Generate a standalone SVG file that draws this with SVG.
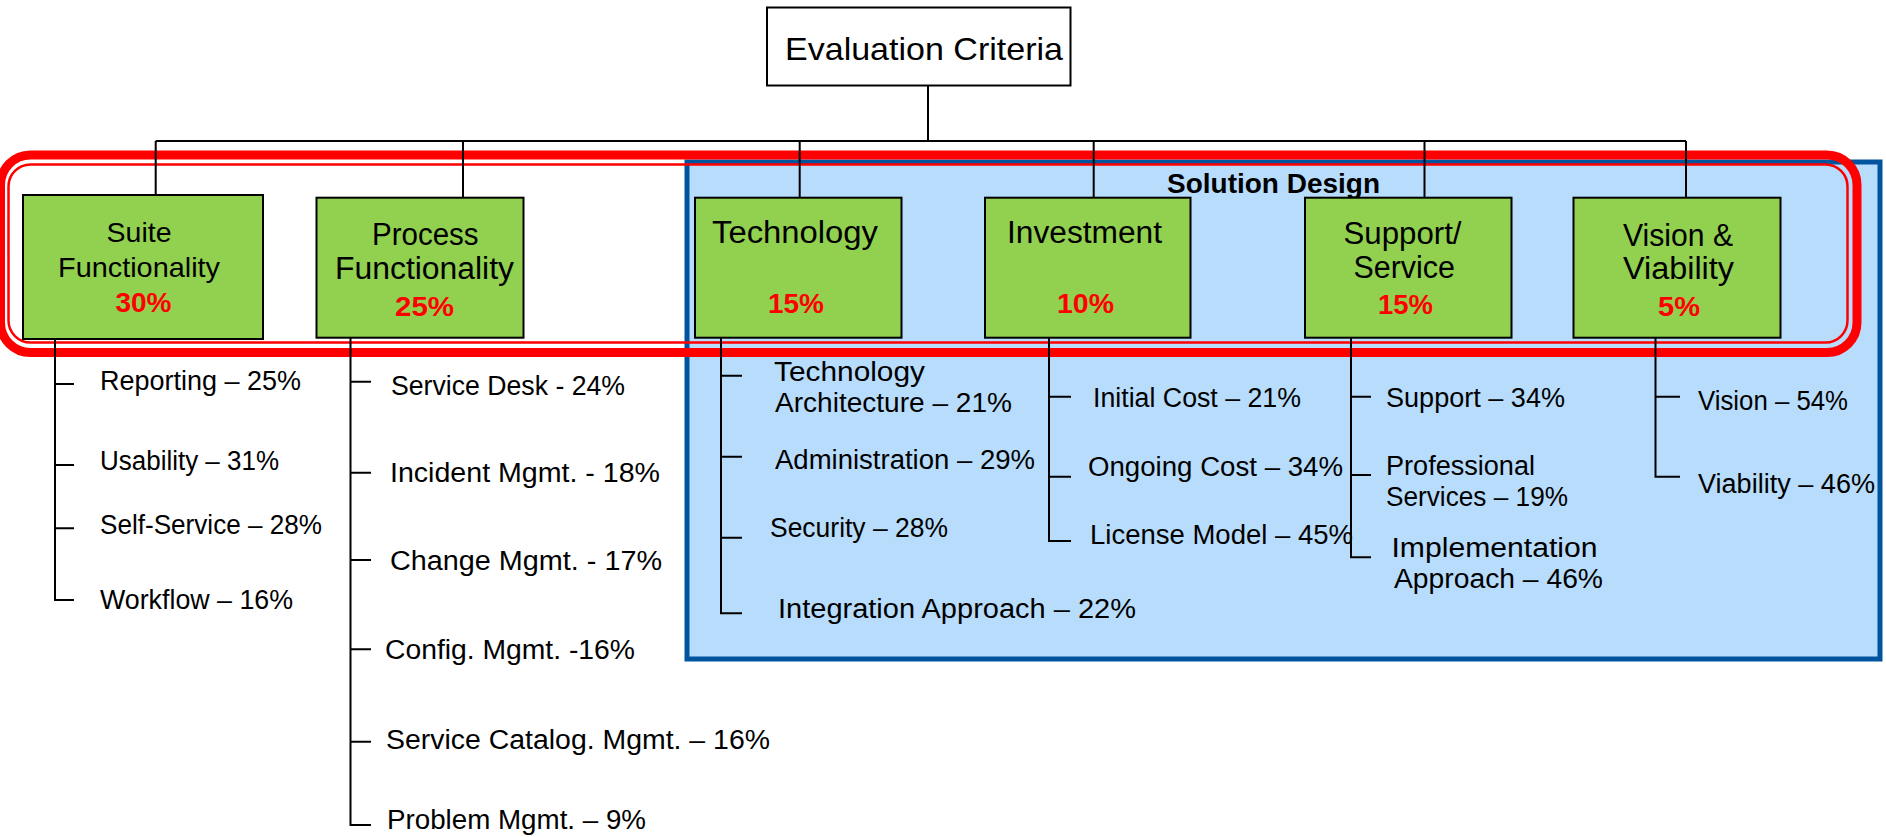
<svg xmlns="http://www.w3.org/2000/svg" width="1886" height="837" viewBox="0 0 1886 837">
<style>
.box{fill:#92d050;stroke:#000;stroke-width:2}
.root{fill:#fff;stroke:#000;stroke-width:2}
.ln{stroke:#000;stroke-width:2;fill:none}
text{font-family:"Liberation Sans",Arial,sans-serif;fill:#000}
.lbl{font-size:31px}
.ar{font-size:28.5px;text-anchor:middle}
.pct{font-size:28px;font-weight:bold;fill:#ff0000;text-anchor:middle}
.sub{font-size:27px}
.sd{font-size:28px;font-weight:bold}
</style>
<g id="solution-design-panel">
<rect x="687" y="162" width="1193" height="497" fill="#b8dcfc" stroke="#00549e" stroke-width="5"/>
<text class="sd" x="1167" y="193" textLength="213" lengthAdjust="spacingAndGlyphs">Solution Design</text>
</g>
<g id="highlight">
<rect x="0.5" y="155" width="1856.5" height="197.5" rx="30" fill="none" stroke="#ff0000" stroke-width="9"/>
<rect x="8.5" y="164.5" width="1839" height="178" rx="22" fill="none" stroke="#ff0000" stroke-width="2.5"/>
</g>
<g id="connectors" class="ln">
<path d="M928 86V141M155.7 141H1686M155.7 141V195M463 141V197.7M799.7 141V197.7M1093.7 141V197.7M1424.5 141V197.7M1686 141V197.7"/>
<path d="M55 339V600H74M55 384H74M55 465H74M55 528.3H74"/>
<path d="M350.5 337.7V825H371M350.5 381.7H371M350.5 472.7H371M350.5 560H371M350.5 649.3H371M350.5 741.7H371"/>
<path d="M721 337.7V613.3H742M721 375.7H742M721 456.7H742M721 537.7H742"/>
<path d="M1049 337.7V541H1071M1049 396.7H1071M1049 476.7H1071"/>
<path d="M1351 337.7V557.3H1371M1351 396.7H1371M1351 475H1371"/>
<path d="M1655.5 337.7V476.7H1680M1655.5 396.7H1680"/>
</g>
<g id="root">
<rect class="root" x="767" y="7.5" width="303.5" height="78"/>
<text style="font-size:32px" x="785" y="60" textLength="278" lengthAdjust="spacingAndGlyphs">Evaluation Criteria</text>
</g>
<g id="suite">
<rect class="box" x="23" y="195" width="240" height="144"/>
<text class="ar" x="139" y="241.7">Suite</text>
<text class="ar" x="139" y="276.7" textLength="162" lengthAdjust="spacingAndGlyphs">Functionality</text>
<text class="pct" x="143.4" y="312.3">30%</text>
</g>
<g id="process">
<rect class="box" x="316.5" y="197.7" width="207" height="140"/>
<text class="lbl" x="372" y="245" textLength="106.6" lengthAdjust="spacingAndGlyphs">Process</text>
<text class="lbl" x="335" y="279" textLength="179" lengthAdjust="spacingAndGlyphs">Functionality</text>
<text class="pct" x="424.5" y="316" textLength="59" lengthAdjust="spacingAndGlyphs">25%</text>
</g>
<g id="technology">
<rect class="box" x="695" y="197.7" width="206.5" height="140"/>
<text class="lbl" x="712" y="243" textLength="166" lengthAdjust="spacingAndGlyphs">Technology</text>
<text class="pct" x="796" y="313" textLength="56" lengthAdjust="spacingAndGlyphs">15%</text>
</g>
<g id="investment">
<rect class="box" x="985" y="197.7" width="205.5" height="140"/>
<text class="lbl" x="1007" y="243" textLength="155" lengthAdjust="spacingAndGlyphs">Investment</text>
<text class="pct" x="1085.5" y="313" textLength="57" lengthAdjust="spacingAndGlyphs">10%</text>
</g>
<g id="support">
<rect class="box" x="1305" y="197.7" width="206.5" height="140"/>
<text class="lbl" x="1343.5" y="243.5" textLength="118" lengthAdjust="spacingAndGlyphs">Support/</text>
<text class="lbl" x="1353.5" y="278.3" textLength="101.5" lengthAdjust="spacingAndGlyphs">Service</text>
<text class="pct" x="1405.5" y="314" textLength="55" lengthAdjust="spacingAndGlyphs">15%</text>
</g>
<g id="vision">
<rect class="box" x="1573.5" y="197.7" width="207" height="140"/>
<text class="lbl" x="1623" y="245.7" textLength="110" lengthAdjust="spacingAndGlyphs">Vision &amp;</text>
<text class="lbl" x="1623" y="279" textLength="111" lengthAdjust="spacingAndGlyphs">Viability</text>
<text class="pct" x="1679" y="316" textLength="42" lengthAdjust="spacingAndGlyphs">5%</text>
</g>
<g id="suite-items">
<text class="sub" x="100" y="390" textLength="201" lengthAdjust="spacingAndGlyphs">Reporting – 25%</text>
<text class="sub" x="100" y="469.5" textLength="179" lengthAdjust="spacingAndGlyphs">Usability – 31%</text>
<text class="sub" x="100" y="533.5" textLength="222" lengthAdjust="spacingAndGlyphs">Self-Service – 28%</text>
<text class="sub" x="100" y="608.5" textLength="193" lengthAdjust="spacingAndGlyphs">Workflow – 16%</text>
</g>
<g id="process-items">
<text class="sub" x="391" y="395" textLength="234" lengthAdjust="spacingAndGlyphs">Service Desk - 24%</text>
<text class="sub" x="390" y="481.5" textLength="270" lengthAdjust="spacingAndGlyphs">Incident Mgmt. - 18%</text>
<text class="sub" x="390" y="570" textLength="272" lengthAdjust="spacingAndGlyphs">Change Mgmt. - 17%</text>
<text class="sub" x="385" y="658.5" textLength="250" lengthAdjust="spacingAndGlyphs">Config. Mgmt. -16%</text>
<text class="sub" x="386" y="749" textLength="384" lengthAdjust="spacingAndGlyphs">Service Catalog. Mgmt. – 16%</text>
<text class="sub" x="387" y="829" textLength="259" lengthAdjust="spacingAndGlyphs">Problem Mgmt. – 9%</text>
</g>
<g id="technology-items">
<text class="sub" x="774" y="381" textLength="151" lengthAdjust="spacingAndGlyphs">Technology</text>
<text class="sub" x="775" y="412" textLength="237" lengthAdjust="spacingAndGlyphs">Architecture – 21%</text>
<text class="sub" x="775" y="469" textLength="260" lengthAdjust="spacingAndGlyphs">Administration – 29%</text>
<text class="sub" x="770" y="537" textLength="178" lengthAdjust="spacingAndGlyphs">Security – 28%</text>
<text class="sub" x="778" y="618" textLength="358" lengthAdjust="spacingAndGlyphs">Integration Approach – 22%</text>
</g>
<g id="investment-items">
<text class="sub" x="1093" y="407" textLength="208" lengthAdjust="spacingAndGlyphs">Initial Cost – 21%</text>
<text class="sub" x="1088" y="476" textLength="255" lengthAdjust="spacingAndGlyphs">Ongoing Cost – 34%</text>
<text class="sub" x="1090" y="544" textLength="263" lengthAdjust="spacingAndGlyphs">License Model – 45%</text>
</g>
<g id="support-items">
<text class="sub" x="1386" y="407" textLength="179" lengthAdjust="spacingAndGlyphs">Support – 34%</text>
<text class="sub" x="1386" y="475" textLength="149" lengthAdjust="spacingAndGlyphs">Professional</text>
<text class="sub" x="1386" y="506" textLength="182" lengthAdjust="spacingAndGlyphs">Services – 19%</text>
<text class="sub" x="1391.5" y="557" textLength="206" lengthAdjust="spacingAndGlyphs">Implementation</text>
<text class="sub" x="1394" y="588" textLength="209" lengthAdjust="spacingAndGlyphs">Approach – 46%</text>
</g>
<g id="vision-items">
<text class="sub" x="1698" y="410" textLength="150" lengthAdjust="spacingAndGlyphs">Vision – 54%</text>
<text class="sub" x="1698" y="493" textLength="177" lengthAdjust="spacingAndGlyphs">Viability – 46%</text>
</g>
</svg>
